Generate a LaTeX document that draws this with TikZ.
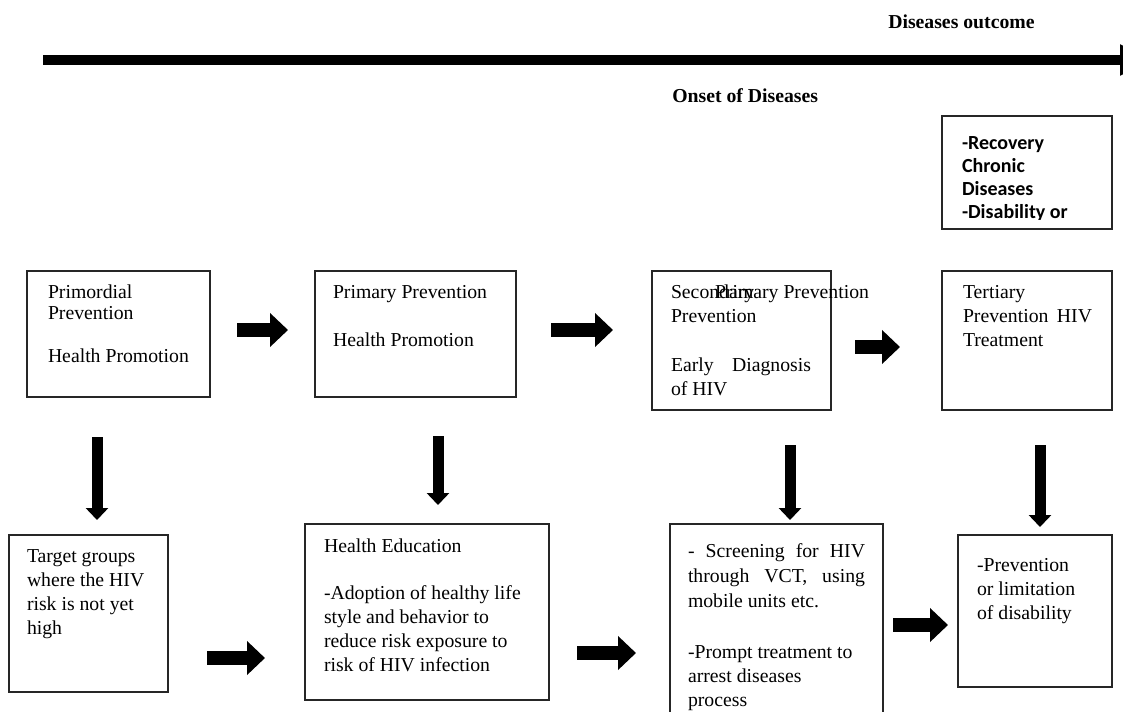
\documentclass[tikz,border=0pt]{standalone}
\usepackage{fontspec}
\setmainfont{Liberation Serif}
\newfontfamily\calib{Carlito}
\usetikzlibrary{arrows.meta,calc}
\newcommand{\mylines}[1]{\begin{tabular}[t]{@{}l@{}}#1\end{tabular}}
\begin{document}
\begin{tikzpicture}[x=0.75pt,y=-0.75pt,
  box/.style 2 args={draw=black!85, line width=1.1pt, inner sep=0pt, outer sep=0pt,
    minimum width=#1*0.75pt, minimum height=#2*0.75pt},
  txt/.style={anchor=base west, inner sep=0pt, outer sep=0pt,
    font=\fontsize{14.8}{18}\selectfont},
  ttl/.style={anchor=base west, inner sep=0pt, font=\fontsize{14.8}{18}\selectfont\bfseries},
  rarrow/.style={line width=10.5pt, -{Triangle[width=24.75pt,length=13.5pt]}},
  darrow/.style={line width=8.25pt, -{Triangle[width=16.5pt,length=9pt]}},
  timeline/.style={line width=7.5pt, -{Triangle[width=22pt,length=22.5pt]}}
]
\useasboundingbox (0,0) rectangle (1123,711);
\clip (0,0) rectangle (1123,711);
\fill[white] (0,0) rectangle (1123,711);

% timeline
\coordinate (tl0) at (43,60);
\coordinate (tl1) at (1150,60);
\draw[timeline] (tl0) -- (tl1);
\node[ttl] (outcome) at (888,28) {Diseases outcome};
\node[ttl] (onset) at (672,102) {Onset of Diseases};

% top row boxes
\node[box={183}{126}] (b1) at (118.5,334) {};
\node[box={201}{126}] (b2) at (415.5,334) {};
\node[box={179}{139}] (b3) at (741.5,340.5) {};
\node[box={170}{139}] (b4) at (1027,340.5) {};
\node[box={170}{113}] (b5) at (1027,172.5) {};

% bottom row boxes
\node[box={159}{157}] (c1) at (88.5,613.5) {};
\node[box={244}{176}] (c2) at (427,612) {};
\node[box={213}{216}] (c3) at (776.5,632) {};
\node[box={154}{152}] (c4) at (1035,611) {};

% texts
\node[txt, font=\fontsize{14.8}{15.75}\selectfont] (t1) at (48,298)
  {\mylines{Primordial\\Prevention\\[16.5pt]Health Promotion}};
\node[txt] (t2) at (333,298) {\mylines{Primary Prevention\\[18pt]Health Promotion}};
\node[txt] (t3) at (671,298)
  {\mylines{Secondary\\Prevention\\[18.75pt]\makebox[105pt][s]{Early Diagnosis}\\of HIV}};
\node[txt] (t3b) at (715,298) {Primary Prevention};
\node[txt] (t4) at (963,298)
  {\mylines{Tertiary\\\makebox[96.75pt][s]{Prevention HIV}\\Treatment}};
\begin{scope}
  \clip (942,116) rectangle (1112,219.5);
  \node[txt, font=\fontsize{15}{17.25}\selectfont\calib\bfseries] (t5) at (962,149)
    {\mylines{-Recovery\\Chronic\\Diseases\\-Disability or}};
\end{scope}
\node[txt] (u1) at (27,562) {\mylines{Target groups\\where the HIV\\risk is not yet\\high}};
\node[txt] (u2) at (324,552)
  {\mylines{Health Education\\[17.25pt]-Adoption of healthy life\\style and behavior to\\reduce risk exposure to\\risk of HIV infection}};
\node[txt, font=\fontsize{14.8}{18.75}\selectfont] (u3) at (688,557)
  {\mylines{\makebox[132.75pt][s]{- Screening for HIV}\\\makebox[132.75pt][s]{through VCT, using}\\mobile units etc.}};
\node[txt] (u3b) at (688,658) {\mylines{-Prompt treatment to\\arrest diseases\\process}};
\node[txt] (u4) at (977,571) {\mylines{-Prevention\\or limitation\\of disability}};

% right arrows, top row
\coordinate (r1a) at (237,330); \coordinate (r1b) at (288,330);
\coordinate (r2a) at (551,330); \coordinate (r2b) at (613,330);
\coordinate (r3a) at (855,347); \coordinate (r3b) at (900,347);
\draw[rarrow] (r1a) -- (r1b);
\draw[rarrow] (r2a) -- (r2b);
\draw[rarrow] (r3a) -- (r3b);
% right arrows, bottom row
\coordinate (s1a) at (207,658); \coordinate (s1b) at (265,658);
\coordinate (s2a) at (577,653); \coordinate (s2b) at (636,653);
\coordinate (s3a) at (893,625); \coordinate (s3b) at (948,625);
\draw[rarrow] (s1a) -- (s1b);
\draw[rarrow] (s2a) -- (s2b);
\draw[rarrow] (s3a) -- (s3b);
% down arrows
\coordinate (d1a) at (97,437);   \coordinate (d1b) at (97,520);
\coordinate (d2a) at (438,436);  \coordinate (d2b) at (438,505);
\coordinate (d3a) at (790,445);  \coordinate (d3b) at (790,520);
\coordinate (d4a) at (1040,445); \coordinate (d4b) at (1040,527);
\draw[darrow] (d1a) -- (d1b);
\draw[darrow] (d2a) -- (d2b);
\draw[darrow] (d3a) -- (d3b);
\draw[darrow] (d4a) -- (d4b);
\end{tikzpicture}
\end{document}
